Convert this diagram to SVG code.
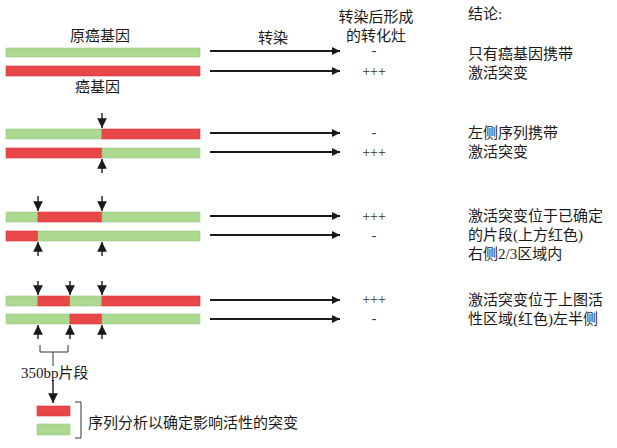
<svg xmlns="http://www.w3.org/2000/svg" width="617" height="448" viewBox="0 0 617 448">
<style>
.g{fill:#acd88f;stroke:#9cc882;stroke-width:0.6}
.r{fill:#e94749;stroke:#d83a3c;stroke-width:0.6}
.ln{stroke:#1a1a1a;stroke-width:2;fill:none}
.tk{stroke:#1a1a1a;stroke-width:1.4;fill:none}
.br{stroke:#333;stroke-width:1;fill:none}
.t{font-family:"Liberation Serif","Noto Sans CJK SC",serif;font-size:15px;fill:#1a1a1a}
.s{font-family:"Liberation Serif",serif;font-size:14px;fill:#333}
</style>
<defs>
<marker id="ah" viewBox="0 0 10 10" refX="10" refY="5" markerWidth="5" markerHeight="4" orient="auto" markerUnits="strokeWidth"><path d="M0,0 L10,5 L0,10 Z" fill="#1a1a1a"/></marker>
<marker id="sh" viewBox="0 0 10 10" refX="10" refY="5" markerWidth="7" markerHeight="7" orient="auto" markerUnits="strokeWidth"><path d="M0,0 L10,5 L0,10 Z" fill="#1a1a1a"/></marker>
</defs>
<g id="headers">
<text class="t" x="70" y="41">原癌基因</text>
<text class="t" x="75" y="92">癌基因</text>
<text class="t" x="258" y="43">转染</text>
<text class="t" x="376" y="22" text-anchor="middle">转染后形成</text>
<text class="t" x="376" y="41" text-anchor="middle">的转化灶</text>
<text class="t" x="468" y="19">结论:</text>
</g>
<g id="row1">
<rect class="g" x="6" y="48" width="194" height="9"/>
<rect class="r" x="6" y="66" width="194" height="10"/>
<text class="s" x="374" y="55" text-anchor="middle">-</text>
<text class="s" x="374" y="76" text-anchor="middle">+++</text>
<text class="t" x="468" y="59">只有癌基因携带</text>
<text class="t" x="468" y="78">激活突变</text>
</g>
<g id="row2">
<rect class="g" x="6" y="129" width="96" height="10"/>
<rect class="r" x="102" y="129" width="98" height="10"/>
<rect class="r" x="6" y="148" width="96" height="10"/>
<rect class="g" x="102" y="148" width="98" height="10"/>
<text class="s" x="374" y="137" text-anchor="middle">-</text>
<text class="s" x="374" y="157" text-anchor="middle">+++</text>
<text class="t" x="468" y="138">左侧序列携带</text>
<text class="t" x="468" y="157">激活突变</text>
</g>
<g id="row3">
<rect class="g" x="6" y="212" width="32" height="10"/>
<rect class="r" x="38" y="212" width="64" height="10"/>
<rect class="g" x="102" y="212" width="98" height="10"/>
<rect class="r" x="6" y="231" width="32" height="10"/>
<rect class="g" x="38" y="231" width="162" height="10"/>
<text class="s" x="374" y="221" text-anchor="middle">+++</text>
<text class="s" x="374" y="240" text-anchor="middle">-</text>
<text class="t" x="468" y="221">激活突变位于已确定</text>
<text class="t" x="468" y="240">的片段(上方红色)</text>
<text class="t" x="468" y="259">右侧2/3区域内</text>
</g>
<g id="row4">
<rect class="g" x="6" y="296" width="32" height="10"/>
<rect class="r" x="38" y="296" width="32" height="10"/>
<rect class="g" x="70" y="296" width="32" height="10"/>
<rect class="r" x="102" y="296" width="98" height="10"/>
<rect class="g" x="6" y="314" width="64" height="10"/>
<rect class="r" x="70" y="314" width="32" height="10"/>
<rect class="g" x="102" y="314" width="98" height="10"/>
<text class="s" x="374" y="304" text-anchor="middle">+++</text>
<text class="s" x="374" y="323" text-anchor="middle">-</text>
<text class="t" x="468" y="305">激活突变位于上图活</text>
<text class="t" x="468" y="324">性区域(红色)左半侧</text>
</g>
<g id="fragment">
<text class="t" x="21" y="378">350bp片段</text>
<rect class="r" x="37" y="406" width="33" height="10"/>
<rect class="g" x="37" y="424" width="33" height="11"/>
<text class="t" x="88" y="428">序列分析以确定影响活性的突变</text>
</g>
<g id="connectors">
<line class="ln" x1="210" y1="51" x2="340" y2="51" marker-end="url(#ah)"/>
<line class="ln" x1="210" y1="71" x2="340" y2="71" marker-end="url(#ah)"/>
<line class="ln" x1="210" y1="133" x2="340" y2="133" marker-end="url(#ah)"/>
<line class="ln" x1="210" y1="152" x2="340" y2="152" marker-end="url(#ah)"/>
<line class="ln" x1="210" y1="216" x2="340" y2="216" marker-end="url(#ah)"/>
<line class="ln" x1="210" y1="235" x2="340" y2="235" marker-end="url(#ah)"/>
<line class="ln" x1="210" y1="300" x2="340" y2="300" marker-end="url(#ah)"/>
<line class="ln" x1="210" y1="319" x2="340" y2="319" marker-end="url(#ah)"/>
<line class="tk" x1="102" y1="113" x2="102" y2="128" marker-end="url(#sh)"/>
<line class="tk" x1="102" y1="173" x2="102" y2="159" marker-end="url(#sh)"/>
<line class="tk" x1="38" y1="196" x2="38" y2="211" marker-end="url(#sh)"/>
<line class="tk" x1="102" y1="196" x2="102" y2="211" marker-end="url(#sh)"/>
<line class="tk" x1="38" y1="256" x2="38" y2="242" marker-end="url(#sh)"/>
<line class="tk" x1="102" y1="256" x2="102" y2="242" marker-end="url(#sh)"/>
<line class="tk" x1="38" y1="281" x2="38" y2="295" marker-end="url(#sh)"/>
<line class="tk" x1="70" y1="281" x2="70" y2="295" marker-end="url(#sh)"/>
<line class="tk" x1="102" y1="281" x2="102" y2="295" marker-end="url(#sh)"/>
<line class="tk" x1="38" y1="339" x2="38" y2="325" marker-end="url(#sh)"/>
<line class="tk" x1="70" y1="339" x2="70" y2="325" marker-end="url(#sh)"/>
<line class="tk" x1="102" y1="339" x2="102" y2="325" marker-end="url(#sh)"/>
<path class="br" d="M40,345 V352 H68 V345"/>
<line class="br" x1="53" y1="352" x2="53" y2="366"/>
<line class="tk" x1="53" y1="380" x2="53" y2="403" stroke-width="1" marker-end="url(#sh)"/>
<path class="br" d="M75,402 H81 V438 H75"/>
</g>
</svg>
